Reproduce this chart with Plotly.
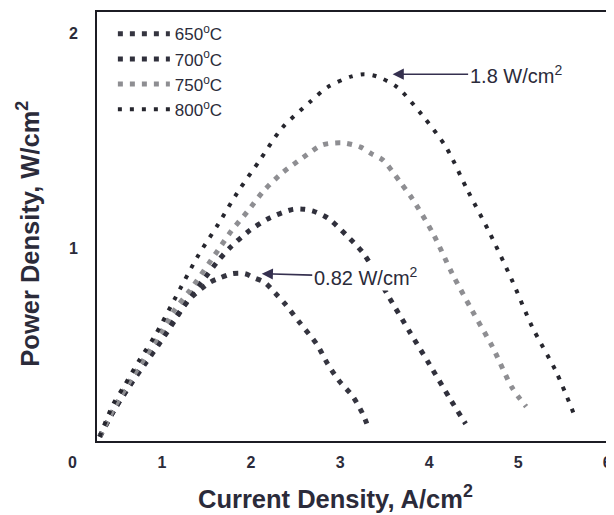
import plotly.graph_objects as go

# --- data (current density A/cm2, power density W/cm2) ---
i_650 = [0.30, 0.47, 0.64, 0.81, 0.98, 1.14, 1.33, 1.54, 1.65, 1.79, 1.93, 2.04, 2.15,
         2.27, 2.38, 2.55, 2.74, 2.86, 2.99, 3.14, 3.25, 3.32]
p_650 = [0.12, 0.25, 0.36, 0.47, 0.57, 0.67, 0.77, 0.84, 0.86, 0.88, 0.88, 0.86, 0.84,
         0.79, 0.74, 0.65, 0.55, 0.46, 0.38, 0.31, 0.23, 0.16]

i_700 = [0.30, 0.47, 0.64, 0.81, 0.98, 1.14, 1.31, 1.48, 1.63, 1.76, 1.98, 2.21, 2.47,
         2.60, 2.71, 2.86, 3.07, 3.27, 3.55, 3.78, 4.00, 4.23, 4.41]
p_700 = [0.12, 0.25, 0.36, 0.46, 0.56, 0.66, 0.77, 0.86, 0.94, 1.00, 1.08, 1.14, 1.18,
         1.18, 1.17, 1.14, 1.06, 0.97, 0.77, 0.61, 0.46, 0.30, 0.18]

i_750 = [0.30, 0.47, 0.64, 0.81, 0.98, 1.14, 1.31, 1.63, 1.78, 1.96, 2.15, 2.35, 2.58,
         2.80, 3.03, 3.23, 3.35, 3.48, 3.67, 3.81, 4.04, 4.26, 4.48, 4.71, 4.93, 5.09]
p_750 = [0.12, 0.26, 0.38, 0.49, 0.60, 0.71, 0.80, 0.99, 1.08, 1.17, 1.27, 1.35, 1.42,
         1.48, 1.49, 1.47, 1.44, 1.41, 1.31, 1.23, 1.07, 0.88, 0.71, 0.54, 0.35, 0.26]

i_800 = [0.30, 0.45, 0.58, 0.75, 0.92, 1.14, 1.40, 1.63, 1.85, 2.10, 2.35, 2.66, 2.86,
         3.13, 3.27, 3.41, 3.64, 3.92, 4.19, 4.43, 4.68, 4.93, 5.16, 5.43, 5.65]
p_800 = [0.12, 0.27, 0.36, 0.48, 0.59, 0.76, 0.96, 1.11, 1.26, 1.41, 1.56, 1.68, 1.75,
         1.80, 1.81, 1.80, 1.75, 1.62, 1.47, 1.27, 1.07, 0.85, 0.63, 0.42, 0.20]

x_ticks = [1, 2, 3, 4, 5, 6]
y_ticks = [1, 2]
x_range = [0.27, 6.02]
y_range = [0.10, 2.10]

ink = "#2b2b3a"
fam = "Liberation Sans"

fig = go.Figure()
series = [
    ("650<sup>o</sup>C", i_650, p_650, "#353540", 5, "5px,7px"),
    ("700<sup>o</sup>C", i_700, p_700, "#30303c", 5, "5px,7px"),
    ("750<sup>o</sup>C", i_750, p_750, "#8e8e92", 5, "5px,7px"),
    ("800<sup>o</sup>C", i_800, p_800, "#26262e", 4, "4px,8px"),
]
for name, xs, ys, col, w, dash in series:
    fig.add_trace(go.Scatter(
        x=xs, y=ys, mode="lines", name=name,
        line=dict(color=col, width=w, dash=dash, shape="spline", smoothing=0.8)
    ))

# peak call-outs
fig.add_annotation(x=3.59, y=1.81, text="1.8 W/cm<sup>2</sup>", showarrow=True,
                   ax=123, ay=0, arrowhead=2, arrowsize=1.4, arrowwidth=1.6,
                   arrowcolor="#35304f", font=dict(size=20, color=ink, family=fam))
fig.add_annotation(x=2.12, y=0.88, text="0.82 W/cm<sup>2</sup>", showarrow=True,
                   ax=104, ay=3, arrowhead=2, arrowsize=1.4, arrowwidth=1.6,
                   arrowcolor="#35304f", bgcolor="white",
                   font=dict(size=20, color=ink, family=fam))

# shared origin label
fig.add_annotation(xref="paper", yref="paper",
                   x=(0 - x_range[0]) / (x_range[1] - x_range[0]),
                   y=(0 - y_range[0]) / (y_range[1] - y_range[0]),
                   text="0", showarrow=False, xanchor="center", yanchor="middle",
                   font=dict(size=16, color=ink, family=fam, weight="bold"))

# axis titles
fig.add_annotation(xref="paper", yref="paper", x=0.466, y=-0.13,
                   text="Current Density, A/cm<sup>2</sup>", showarrow=False,
                   xanchor="center", yanchor="middle",
                   font=dict(size=25.5, color=ink, family=fam, weight="bold"))
fig.add_annotation(xref="paper", yref="paper", x=-0.135, y=0.483,
                   text="Power Density, W/cm<sup>2</sup>", showarrow=False, textangle=-90,
                   xanchor="center", yanchor="middle",
                   font=dict(size=25.5, color=ink, family=fam, weight="bold"))

axis_common = dict(
    showline=True, mirror=True, linewidth=2, linecolor="#1c1c24",
    showgrid=False, zeroline=False, ticks="outside",
    tickcolor="rgba(0,0,0,0)",
    tickfont=dict(size=16, color=ink, family=fam, weight="bold"),
)
fig.update_xaxes(range=x_range, tickvals=x_ticks, ticklen=6, **axis_common)
fig.update_yaxes(range=y_range, tickvals=y_ticks, ticklen=14, **axis_common)

# page body adds an 8px offset, so the figure is sized 8px smaller
fig.update_layout(
    width=606, height=507,
    margin=dict(l=89, r=4, t=2, b=74),
    paper_bgcolor="white", plot_bgcolor="white",
    showlegend=True,
    legend=dict(x=0.031, y=0.99, xanchor="left", yanchor="top",
                bgcolor="rgba(0,0,0,0)", itemwidth=52,
                font=dict(size=17, color=ink, family=fam)),
)

fig.write_html("out.html")
